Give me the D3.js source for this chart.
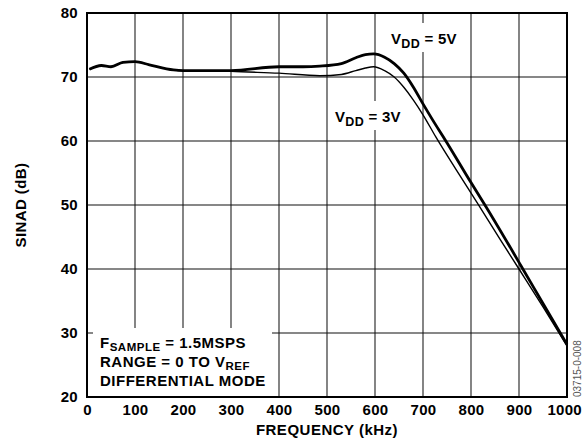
<!DOCTYPE html>
<html>
<head>
<meta charset="utf-8">
<script src="https://cdn.jsdelivr.net/npm/d3@7"></script>
<style>
  body { margin: 0; background: #fff; }
  svg { font-family: "Liberation Sans", Arial, sans-serif; font-weight: bold; }
</style>
</head>
<body>
<svg width="582" height="443"></svg>
<script>
// Data
const freq5 = [5, 30, 50, 75, 100, 130, 180, 200, 300, 400, 450, 485, 530, 560, 580, 597, 620, 640, 660, 680, 700, 720, 746, 800, 829, 905, 950, 1000];
const sinad5 = [71.2, 71.8, 71.6, 72.3, 72.4, 71.9, 71.1, 71.0, 71.0, 71.6, 71.6, 71.7, 72.1, 73.0, 73.5, 73.6, 73.1, 72.1, 70.6, 68.4, 65.8, 63.3, 60.2, 53.5, 50.0, 40.4, 34.6, 28.2];
const freq3 = [5, 30, 50, 75, 100, 130, 180, 200, 280, 300, 400, 485, 530, 560, 580, 597, 620, 640, 660, 680, 700, 727, 770, 815, 860, 900, 950, 1000];
const sinad3 = [71.2, 71.8, 71.6, 72.3, 72.4, 71.9, 71.1, 71.0, 71.0, 70.9, 70.6, 70.2, 70.4, 71.0, 71.4, 71.6, 71.0, 70.0, 68.4, 66.4, 64.1, 60.6, 55.4, 50.1, 44.7, 40.0, 34.1, 28.0];
const xTicks = [0, 100, 200, 300, 400, 500, 600, 700, 800, 900, 1000];
const yTicks = [20, 30, 40, 50, 60, 70, 80];

const svg = d3.select("svg");
const margin = { top: 13, right: 15, bottom: 46, left: 87 };
const width = 582, height = 443;
const x = d3.scaleLinear().domain([0, 1000]).range([margin.left, width - margin.right]);
const y = d3.scaleLinear().domain([20, 80]).range([height - margin.bottom, margin.top]);

// Grid
svg.append("g")
   .selectAll("line")
   .data(xTicks)
   .enter().append("line")
   .attr("x1", d => x(d)).attr("x2", d => x(d))
   .attr("y1", y(20)).attr("y2", y(80))
   .attr("stroke", "#333").attr("stroke-width", 1.2);
svg.append("g")
   .selectAll("line")
   .data(yTicks)
   .enter().append("line")
   .attr("x1", x(0)).attr("x2", x(1000))
   .attr("y1", d => y(d)).attr("y2", d => y(d))
   .attr("stroke", "#111").attr("stroke-width", 1.2);

// White backgrounds behind annotations
svg.append("rect").attr("x", x(0) + 6).attr("y", 328).attr("width", 272 - x(0) - 6).attr("height", y(20) - 329).attr("fill", "#fff");
svg.append("rect").attr("x", 389).attr("y", 23).attr("width", 70).attr("height", 29).attr("fill", "#fff");
svg.append("rect").attr("x", 333).attr("y", 101).attr("width", 70).attr("height", 29).attr("fill", "#fff");

// Curves
const line = d3.line().curve(d3.curveMonotoneX);
svg.append("path")
   .attr("d", line(freq3.map((f, i) => [x(f), y(sinad3[i])])))
   .attr("fill", "none").attr("stroke", "#000").attr("stroke-width", 1.4);
svg.append("path")
   .attr("d", line(freq5.map((f, i) => [x(f), y(sinad5[i])])))
   .attr("fill", "none").attr("stroke", "#000").attr("stroke-width", 2.8);

// Frame
svg.append("rect")
   .attr("x", x(0)).attr("y", y(80))
   .attr("width", x(1000) - x(0)).attr("height", y(20) - y(80))
   .attr("fill", "none").attr("stroke", "#000").attr("stroke-width", 2);

// Axes (labels only)
const xAxis = d3.axisBottom(x).tickValues(xTicks).tickFormat(d3.format("d")).tickSize(0).tickPadding(7);
const yAxis = d3.axisLeft(y).tickValues(yTicks).tickSize(0).tickPadding(9);
const gx = svg.append("g").attr("transform", `translate(0, ${y(20)})`).call(xAxis);
const gy = svg.append("g").attr("transform", `translate(${x(0)}, 0)`).call(yAxis);
[gx, gy].forEach(g => {
  g.select(".domain").remove();
  g.selectAll("text")
   .attr("font-size", 15).attr("letter-spacing", 0.3)
   .attr("font-family", "Liberation Sans, Arial").attr("font-weight", "bold").attr("fill", "#000");
});
// last label sits against the right edge
gx.selectAll(".tick text").filter(d => d === 1000)
  .attr("text-anchor", "end").attr("x", width - 0.5 - x(1000));

// Axis titles
svg.append("text")
   .attr("x", x(500)).attr("y", 435)
   .attr("text-anchor", "middle").attr("font-size", 15).attr("letter-spacing", 0.5)
   .text("FREQUENCY (kHz)");
svg.append("text")
   .attr("transform", `translate(26, ${y(50)}) rotate(-90)`)
   .attr("text-anchor", "middle").attr("font-size", 15).attr("letter-spacing", 0.4)
   .text("SINAD (dB)");

// Series labels
function vddLabel(px, py, val) {
  const t = svg.append("text").attr("x", px).attr("y", py).attr("font-size", 15).attr("letter-spacing", 0.3);
  t.append("tspan").text("V");
  t.append("tspan").attr("font-size", 12.5).attr("dy", 3.5).text("DD");
  t.append("tspan").attr("dy", -3.5).text(" = " + val);
}
vddLabel(391, 44.3, "5V");
vddLabel(335, 122.3, "3V");

// Condition box
const box = svg.append("g").attr("font-size", 15).attr("letter-spacing", 0.5);
const l1 = box.append("text").attr("x", 100).attr("y", 348.3);
l1.append("tspan").text("F");
l1.append("tspan").attr("font-size", 11.5).attr("dy", 3).text("SAMPLE");
l1.append("tspan").attr("dy", -3).text(" = 1.5MSPS");
const l2 = box.append("text").attr("x", 100).attr("y", 367.3);
l2.append("tspan").text("RANGE = 0 TO V");
l2.append("tspan").attr("font-size", 11.5).attr("dy", 3).text("REF");
box.append("text").attr("x", 100).attr("y", 386.3).text("DIFFERENTIAL MODE");

// Figure code
svg.append("text")
   .attr("transform", `translate(581, 397) rotate(-90)`)
   .attr("font-size", 10).attr("font-weight", "normal").attr("fill", "#555")
   .text("03715-0-008");
</script>
</body>
</html>
